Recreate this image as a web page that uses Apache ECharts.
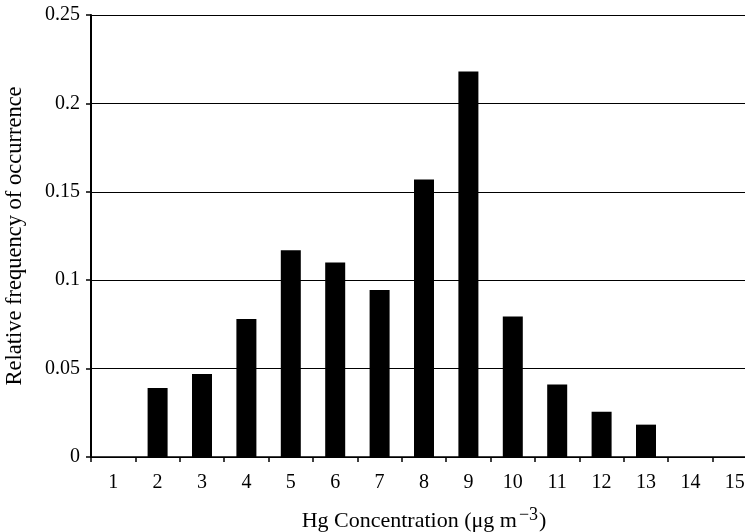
<!DOCTYPE html>
<html>
<head>
<meta charset="utf-8">
<style>
  html, body { margin: 0; padding: 0; background: #fff; }
  #chart { width: 745px; height: 532px; }
</style>
<script src="https://cdn.jsdelivr.net/npm/echarts@6/dist/echarts.min.js"></script>
</head>
<body>
<div id="chart"></div>
<script>
// Hg concentration bins (µg m^-3)
const categories = ['1','2','3','4','5','6','7','8','9','10','11','12','13','14','15'];
// Relative frequency of occurrence per bin
const frequency = [0, 0.039, 0.047, 0.078, 0.117, 0.110, 0.0945, 0.157, 0.218, 0.0795, 0.041, 0.0256, 0.0183, 0, 0];
const yTicks = { min: 0, max: 0.25, interval: 0.05 };

const serif = '"Liberation Serif", "DejaVu Serif", serif';
const chart = echarts.init(document.getElementById('chart'));

chart.setOption({
  animation: false,
  backgroundColor: '#fff',
  grid: { left: 91, top: 15, width: 666, height: 442, containLabel: false, outerBoundsMode: 'none' },
  xAxis: {
    type: 'category',
    data: categories,
    boundaryGap: true,
    axisLine: { lineStyle: { color: '#000', width: 1.5 } },
    axisTick: { show: true, length: 5, lineStyle: { color: '#000', width: 1.5 } },
    axisLabel: { color: '#000', fontFamily: serif, fontSize: 20, margin: 16 },
    name: '{t|Hg Concentration (μg m}{s|−3}{t|)}',
    nameLocation: 'middle',
    nameGap: 49,
    nameTextStyle: {
      fontFamily: serif,
      rich: {
        t: { fontFamily: serif, fontSize: 22, color: '#000', verticalAlign: 'bottom', lineHeight: 26 },
        s: { fontFamily: serif, fontSize: 18, color: '#000', verticalAlign: 'top', lineHeight: 26, padding: [0, 1, 12, 2] }
      }
    }
  },
  yAxis: {
    type: 'value',
    min: yTicks.min,
    max: yTicks.max,
    interval: yTicks.interval,
    axisLine: { show: true, lineStyle: { color: '#000', width: 2 } },
    axisTick: { show: true, length: 5, lineStyle: { color: '#000', width: 1.5 } },
    axisLabel: { color: '#000', fontFamily: serif, fontSize: 20, margin: 11,
      formatter: v => String(+v.toFixed(2)) },
    splitLine: { show: true, lineStyle: { color: '#000', width: 1.2 } },
    name: 'Relative frequency of occurrence',
    nameLocation: 'middle',
    nameGap: 64,
    nameTextStyle: { color: '#000', fontFamily: serif, fontSize: 22.5 }
  },
  series: [{
    type: 'bar',
    data: frequency,
    barWidth: 20,
    itemStyle: { color: '#000' }
  }]
});
</script>
</body>
</html>
